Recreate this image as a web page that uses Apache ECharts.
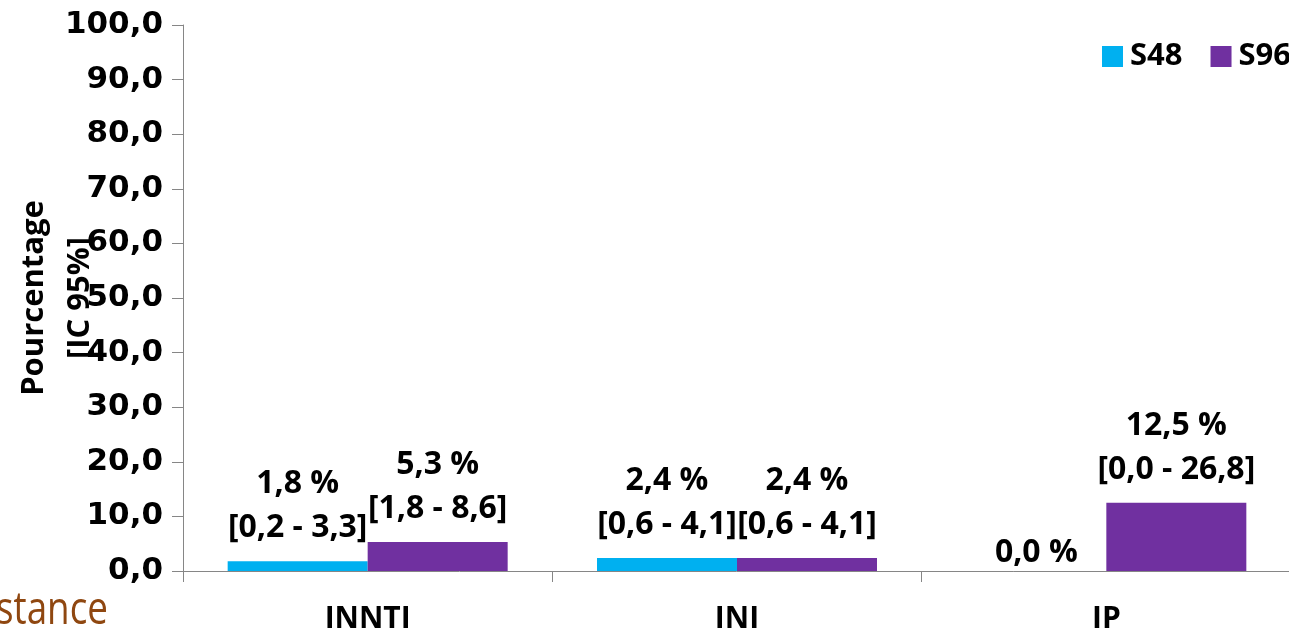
<!DOCTYPE html>
<html>
<head>
<meta charset="utf-8">
<script src="https://cdn.jsdelivr.net/npm/echarts@6/dist/echarts.min.js"></script>
<style>
  html, body { margin: 0; padding: 0; background: #ffffff; }
  #chart { width: 1289px; height: 633px; }
</style>
</head>
<body>
<div id="chart"></div>
<script>
// Categories and series
const categories = ['INNTI', 'INI', 'IP'];
const seriesNames = ['S48', 'S96'];

// Percentages per category
const s48Values = [1.8, 2.4, 0.0];
const s96Values = [5.3, 2.4, 12.5];

// 95% confidence intervals (null when not reported)
const s48Low = [0.2, 0.6, null];
const s48High = [3.3, 4.1, null];
const s96Low = [1.8, 0.6, 0.0];
const s96High = [8.6, 4.1, 26.8];

// Value axis ticks
const yMin = 0;
const yMax = 100;
const yStep = 10;

const fmt = v => v.toFixed(1).replace('.', ',');

const labelFont = '"Open Sans", "Noto Sans", sans-serif';

function buildData(values, low, high) {
  return values.map((v, i) => {
    const hasCI = low[i] !== null && high[i] !== null;
    const item = {
      value: v,
      ciText: hasCI ? '[' + fmt(low[i]) + ' - ' + fmt(high[i]) + ']' : null
    };
    if (!hasCI) {
      item.label = { lineHeight: 36, distance: 0 };
    }
    return item;
  });
}

function labelFormatter(p) {
  const ci = p.data.ciText;
  return fmt(p.value) + ' %' + (ci ? '\n' + ci : '');
}

const barLabel = {
  show: true,
  position: 'top',
  distance: 11,
  color: '#000000',
  fontFamily: labelFont,
  fontWeight: 'bold',
  fontSize: 32,
  lineHeight: 44,
  formatter: labelFormatter
};

const chart = echarts.init(document.getElementById('chart'), null, { renderer: 'canvas' });

chart.setOption({
  animation: false,
  backgroundColor: '#ffffff',
  grid: {
    left: 183, top: 25, width: 1108, height: 546,
    containLabel: false,
    outerBoundsMode: 'none'
  },
  legend: {
    data: seriesNames,
    orient: 'horizontal',
    left: 1097,
    top: 36,
    width: 300,
    itemWidth: 21,
    itemHeight: 21,
    itemGap: 28,
    icon: 'rect',
    textStyle: {
      color: '#000000',
      fontFamily: labelFont,
      fontWeight: 'bold',
      fontSize: 31,
      padding: [0, 0, 0, 2]
    }
  },
  xAxis: {
    type: 'category',
    data: categories,
    axisLine: { lineStyle: { color: '#868686', width: 1 } },
    axisTick: { show: true, alignWithLabel: false, length: 11, lineStyle: { color: '#868686' } },
    axisLabel: {
      margin: 33,
      color: '#000000',
      fontFamily: labelFont,
      fontWeight: 'bold',
      fontSize: 30
    },
    splitLine: { show: false }
  },
  yAxis: {
    type: 'value',
    min: yMin,
    max: yMax,
    interval: yStep,
    name: 'Pourcentage\n[IC 95%]',
    nameLocation: 'middle',
    nameRotate: 90,
    nameGap: 80,
    nameMoveOverlap: false,
    nameTextStyle: {
      color: '#000000',
      fontFamily: labelFont,
      fontWeight: 'bold',
      fontSize: 31,
      lineHeight: 46
    },
    axisLine: { show: true, lineStyle: { color: '#868686', width: 1 } },
    axisTick: { show: true, length: 11, lineStyle: { color: '#868686' } },
    axisLabel: {
      margin: 20,
      color: '#000000',
      fontFamily: '"DejaVu Sans", Verdana, sans-serif',
      fontWeight: 'bold',
      fontSize: 31,
      formatter: v => fmt(v)
    },
    splitLine: { show: false }
  },
  series: [
    {
      name: seriesNames[0],
      type: 'bar',
      data: buildData(s48Values, s48Low, s48High),
      barWidth: 140,
      barGap: '0%',
      itemStyle: { color: '#00B0F0' },
      label: barLabel
    },
    {
      name: seriesNames[1],
      type: 'bar',
      data: buildData(s96Values, s96Low, s96High),
      barWidth: 140,
      barGap: '0%',
      itemStyle: { color: '#7030A0' },
      label: barLabel
    }
  ],
  graphic: [
    {
      type: 'text',
      left: -4,
      top: 588,
      scaleX: 0.8,
      style: {
        text: 'stance',
        fill: '#8F4710',
        fontFamily: labelFont,
        fontSize: 46
      }
    }
  ]
});
</script>
</body>
</html>
